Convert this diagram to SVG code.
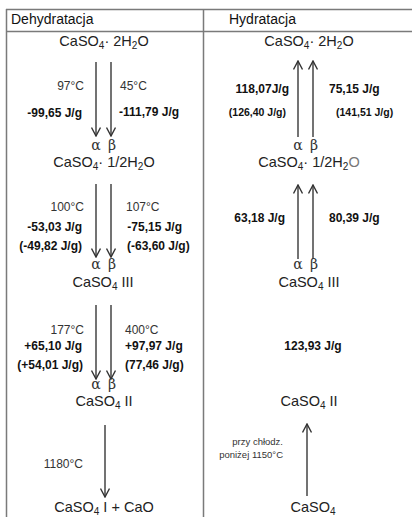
<svg xmlns="http://www.w3.org/2000/svg" width="412" height="517" viewBox="0 0 412 517">
<defs>
<marker id="ah" viewBox="0 0 10 10" refX="9" refY="5" markerWidth="10" markerHeight="10" markerUnits="userSpaceOnUse" orient="auto">
<path d="M0.5,0.5 L9,5 L0.5,9.5" fill="none" stroke="#333" stroke-width="1.4"/>
</marker>
<style>
.grid{stroke:#7a7a7a;stroke-width:1.5;fill:none}
.arr{stroke:#444;stroke-width:1.5;fill:none;marker-end:url(#ah)}
.hd{font-family:"Liberation Sans",Arial,sans-serif;font-size:14px;fill:#111}
.f{font-family:"Liberation Sans",Arial,sans-serif;font-size:14.5px;fill:#222}
.s{font-size:10px}
.t{font-family:"Liberation Sans",Arial,sans-serif;font-size:12px;fill:#333}
.b{font-family:"Liberation Sans",Arial,sans-serif;font-size:12px;font-weight:bold;fill:#111}
.bs{font-family:"Liberation Sans",Arial,sans-serif;font-size:10.5px;font-weight:bold;fill:#111}
.g{font-family:"DejaVu Serif","Liberation Serif",serif;font-size:14px;fill:#333}
.sm{font-family:"Liberation Sans",Arial,sans-serif;font-size:9.5px;fill:#333}
</style>
</defs>
<g id="table">
<path class="grid" d="M6,9.5 H412 M6,31.5 H412 M6.5,9 V517 M203.5,9 V517"/>
<text class="hd" x="11" y="24">Dehydratacja</text>
<text class="hd" x="229" y="24">Hydratacja</text>
</g>
<g id="connectors">
<line class="arr" x1="96" y1="62" x2="96" y2="136"/>
<line class="arr" x1="111" y1="62" x2="111" y2="136"/>
<line class="arr" x1="96" y1="184" x2="96" y2="257"/>
<line class="arr" x1="111" y1="184" x2="111" y2="257"/>
<line class="arr" x1="96" y1="305" x2="96" y2="379"/>
<line class="arr" x1="111" y1="305" x2="111" y2="379"/>
<line class="arr" x1="105" y1="425" x2="105" y2="497"/>
<line class="arr" x1="298" y1="137" x2="298" y2="61"/>
<line class="arr" x1="313" y1="137" x2="313" y2="61"/>
<line class="arr" x1="298" y1="259" x2="298" y2="185"/>
<line class="arr" x1="313" y1="259" x2="313" y2="185"/>
<line class="arr" x1="307" y1="496" x2="307" y2="424"/>
</g>
<g id="n-dihydrate-L"><text class="f" x="104" y="46" text-anchor="middle">CaSO<tspan class="s" dy="3">4</tspan><tspan dy="-3">· 2H</tspan><tspan class="s" dy="3">2</tspan><tspan dy="-3">O</tspan></text></g>
<g id="lbl-L1">
<text class="t" x="84" y="90" text-anchor="end">97°C</text>
<text class="t" x="120" y="90">45°C</text>
<text class="b" x="82" y="117" text-anchor="end">-99,65 J/g</text>
<text class="b" x="119" y="116">-111,79 J/g</text>
<text class="g" x="96" y="150" text-anchor="middle">α</text>
<text class="g" x="112" y="150" text-anchor="middle">β</text>
</g>
<g id="n-hemihydrate-L"><text class="f" x="104" y="167" text-anchor="middle">CaSO<tspan class="s" dy="3">4</tspan><tspan dy="-3">· 1/2H</tspan><tspan class="s" dy="3">2</tspan><tspan dy="-3">O</tspan></text></g>
<g id="lbl-L2">
<text class="t" x="84" y="211" text-anchor="end">100°C</text>
<text class="t" x="126" y="211">107°C</text>
<text class="b" x="82" y="231" text-anchor="end">-53,03 J/g</text>
<text class="b" x="182" y="231" text-anchor="end">-75,15 J/g</text>
<text class="b" x="82" y="250" text-anchor="end">(-49,82 J/g)</text>
<text class="b" x="127" y="250">(-63,60 J/g)</text>
<text class="g" x="96" y="269" text-anchor="middle">α</text>
<text class="g" x="112" y="269" text-anchor="middle">β</text>
</g>
<g id="n-III-L"><text class="f" x="103" y="287" text-anchor="middle">CaSO<tspan class="s" dy="3">4</tspan><tspan dy="-3"> III</tspan></text></g>
<g id="lbl-L3">
<text class="t" x="84" y="334" text-anchor="end">177°C</text>
<text class="t" x="125" y="334">400°C</text>
<text class="b" x="82" y="350" text-anchor="end">+65,10 J/g</text>
<text class="b" x="125" y="350">+97,97 J/g</text>
<text class="b" x="83" y="369" text-anchor="end">(+54,01 J/g)</text>
<text class="b" x="125" y="369">(77,46 J/g)</text>
<text class="g" x="96" y="389" text-anchor="middle">α</text>
<text class="g" x="112" y="389" text-anchor="middle">β</text>
</g>
<g id="n-II-L"><text class="f" x="104" y="406" text-anchor="middle">CaSO<tspan class="s" dy="3">4</tspan><tspan dy="-3"> II</tspan></text></g>
<g id="lbl-L4"><text class="t" x="83" y="468" text-anchor="end">1180°C</text></g>
<g id="n-I-L"><text class="f" x="104" y="512" text-anchor="middle">CaSO<tspan class="s" dy="3">4</tspan><tspan dy="-3"> I + CaO</tspan></text></g>

<g id="n-dihydrate-R"><text class="f" x="309" y="46" text-anchor="middle">CaSO<tspan class="s" dy="3">4</tspan><tspan dy="-3">· 2H</tspan><tspan class="s" dy="3">2</tspan><tspan dy="-3">O</tspan></text></g>
<g id="lbl-R1">
<text class="b" x="289" y="93" text-anchor="end">118,07J/g</text>
<text class="b" x="329" y="93">75,15 J/g</text>
<text class="bs" x="286" y="116" text-anchor="end">(126,40 J/g)</text>
<text class="bs" x="336" y="116">(141,51 J/g)</text>
<text class="g" x="298" y="150" text-anchor="middle">α</text>
<text class="g" x="314" y="150" text-anchor="middle">β</text>
</g>
<g id="n-hemihydrate-R"><text class="f" x="309" y="167" text-anchor="middle">CaSO<tspan class="s" dy="3">4</tspan><tspan dy="-3">· 1/2H</tspan><tspan class="s" dy="3">2</tspan><tspan dy="-3" fill="#777">O</tspan></text></g>
<g id="lbl-R2">
<text class="b" x="285" y="222" text-anchor="end">63,18 J/g</text>
<text class="b" x="329" y="222">80,39 J/g</text>
<text class="g" x="298" y="269" text-anchor="middle">α</text>
<text class="g" x="314" y="269" text-anchor="middle">β</text>
</g>
<g id="n-III-R"><text class="f" x="309" y="287" text-anchor="middle">CaSO<tspan class="s" dy="3">4</tspan><tspan dy="-3"> III</tspan></text></g>
<g id="lbl-R3"><text class="b" x="313" y="350" text-anchor="middle">123,93 J/g</text></g>
<g id="n-II-R"><text class="f" x="309" y="406" text-anchor="middle">CaSO<tspan class="s" dy="3">4</tspan><tspan dy="-3"> II</tspan></text></g>
<g id="lbl-R4">
<text class="sm" x="283" y="445" text-anchor="end">przy chłodz.</text>
<text class="sm" x="283" y="458" text-anchor="end">poniżej 1150°C</text>
</g>
<g id="n-I-R"><text class="f" x="313" y="512" text-anchor="middle">CaSO<tspan class="s" dy="3">4</tspan></text></g>
</svg>
